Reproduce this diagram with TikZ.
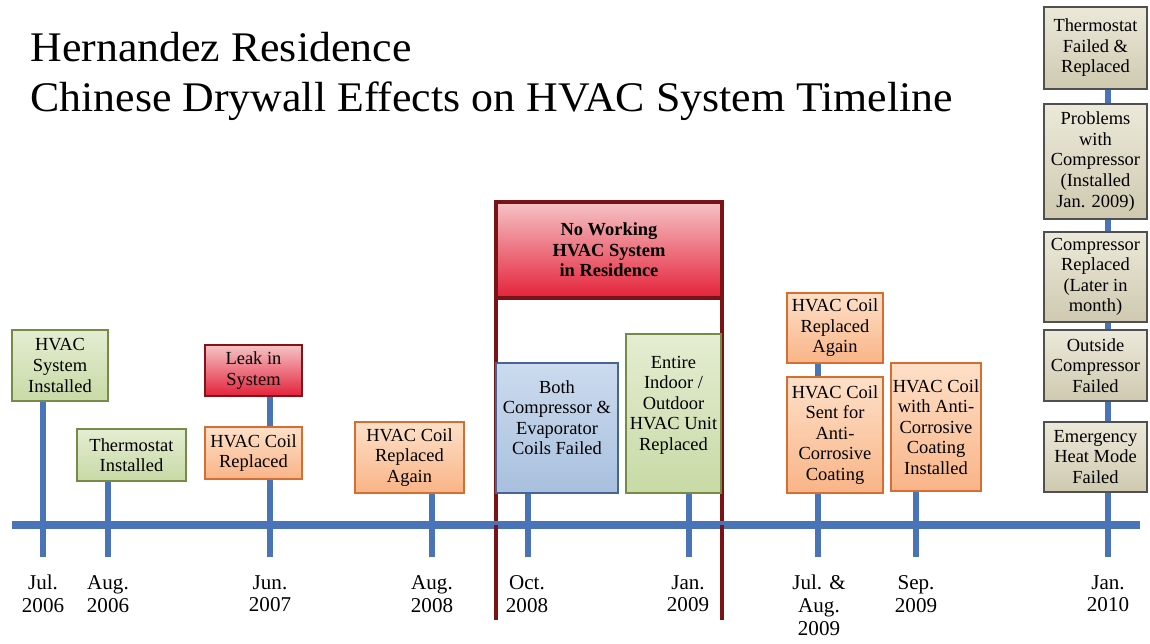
\documentclass[tikz,border=0pt]{standalone}
\usepackage{fontspec}
\setmainfont{Liberation Serif}
\newfontfamily\titlefont[FakeStretch=1.04]{Liberation Serif}
\usetikzlibrary{positioning,calc}

\definecolor{lineblue}{RGB}{74,116,184}
\definecolor{framered}{RGB}{122,19,21}
\definecolor{greenfill}{RGB}{228,237,210}
\definecolor{greenlow}{RGB}{200,218,166}
\definecolor{greenline}{RGB}{118,140,70}
\definecolor{orangefill}{RGB}{253,224,200}
\definecolor{orangelow}{RGB}{249,180,135}
\definecolor{orangeline}{RGB}{214,110,50}
\definecolor{redfill}{RGB}{245,196,198}
\definecolor{redlow}{RGB}{228,34,58}
\definecolor{redline}{RGB}{130,20,25}
\definecolor{bluefill}{RGB}{204,219,238}
\definecolor{bluelow}{RGB}{168,192,222}
\definecolor{blueline}{RGB}{72,100,150}
\definecolor{khakifill}{RGB}{236,233,218}
\definecolor{khakilow}{RGB}{206,201,175}
\definecolor{khakiline}{RGB}{80,80,80}

\begin{document}
\begin{tikzpicture}[x=0.02cm, y=-0.02cm,
    box/.style={draw, line width=1pt, align=center, inner sep=1pt,
        font=\fontsize{10.5}{11.7}\selectfont},
    greenbox/.style={box, draw=greenline, top color=greenfill, bottom color=greenlow},
    orangebox/.style={box, draw=orangeline, top color=orangefill, bottom color=orangelow},
    redbox/.style={box, draw=redline, top color=redfill, bottom color=redlow},
    bluebox/.style={box, draw=blueline, top color=bluefill, bottom color=bluelow},
    khakibox/.style={box, draw=khakiline, top color=khakifill, bottom color=khakilow},
    tick/.style={lineblue, line width=3.4pt},
    frame/.style={framered, line width=2.8pt},
    date/.style={anchor=north, align=center, inner sep=0pt,
        font=\fontsize{12}{13}\selectfont}
]
    \useasboundingbox (0,0) rectangle (1150,644);

    % title
    \node[anchor=base west, inner sep=0pt, font=\titlefont\fontsize{24}{28}\selectfont] (title1) at (30,62) {Hernandez Residence};
    \node[anchor=base west, inner sep=0pt, font=\titlefont\fontsize{24}{28}\selectfont] (title2) at (30,112) {Chinese Drywall Effects on HVAC System Timeline};

    % tick ends on the axis
    \coordinate (t1) at (43,557);
    \coordinate (t2) at (108,557);
    \coordinate (t3) at (270,557);
    \coordinate (t4) at (432,557);
    \coordinate (t5) at (528,557);
    \coordinate (t6) at (689,557);
    \coordinate (t7) at (818,557);
    \coordinate (t8) at (916,557);
    \coordinate (t9) at (1108,557);
    \coordinate (axl) at (12,525);
    \coordinate (axr) at (1140,525);
    \coordinate (fr1) at (496,620);
    \coordinate (fr2) at (722,620);

    % events
    \node[greenbox, minimum width=1.92cm, minimum height=1.42cm] (sys) at (60,365.5) {HVAC\\System\\Installed};
    \node[greenbox, minimum width=2.18cm, minimum height=1.04cm] (tstat) at (131.5,455) {Thermostat\\Installed};
    \node[redbox, minimum width=1.94cm, minimum height=1.02cm] (leak) at (253.5,370.5) {Leak in\\System};
    \node[orangebox, minimum width=1.94cm, minimum height=1.04cm] (coilA) at (253.5,453) {HVAC Coil\\Replaced};
    \node[orangebox, minimum width=2.18cm, minimum height=1.42cm] (coilB) at (409.5,457.5) {HVAC Coil\\Replaced\\Again};

    % no working period, frame behind the boxes
    \draw[frame] (fr1) -- (fr1 |- 0,250);
    \draw[frame] (fr2) -- (fr2 |- 0,250);

    \node[bluebox, minimum width=2.44cm, minimum height=2.6cm] (both) at (557,428) {Both\\Compressor \&\\Evaporator\\Coils Failed\\\mbox{}};
    \node[greenbox, minimum width=1.9cm, minimum height=3.18cm] (entire) at (673.5,413.5) {Entire\\Indoor /\\Outdoor\\HVAC Unit\\Replaced\\\mbox{}};
    \node[orangebox, minimum width=1.92cm, minimum height=1.4cm] (coilC) at (835,328) {HVAC Coil\\Replaced\\Again};
    \node[orangebox, minimum width=1.92cm, minimum height=2.32cm] (sent) at (835,435) {HVAC Coil\\Sent for\\Anti-\\Corrosive\\Coating};
    \node[orangebox, minimum width=1.8cm, minimum height=2.56cm] (withac) at (936,427) {HVAC Coil\\with Anti-\\Corrosive\\Coating\\Installed};
    \node[khakibox, minimum width=2.06cm, minimum height=1.4cm] (emerg) at (1095.5,457) {Emergency\\Heat Mode\\Failed};
    \node[khakibox, minimum width=2.06cm, minimum height=1.42cm] (outside) at (1095.5,365.5) {Outside\\Compressor\\Failed};
    \node[khakibox, minimum width=2.06cm, minimum height=1.8cm] (comprep) at (1095.5,277) {Compressor\\Replaced\\(Later in\\month)};
    \node[khakibox, minimum width=2.06cm, minimum height=2.3cm] (problems) at (1095.5,161.5) {Problems\\with\\Compressor\\(Installed\\Jan. 2009)};
    \node[khakibox, minimum width=2.06cm, minimum height=1.64cm] (tfail) at (1095.5,48) {Thermostat\\Failed \&\\Replaced};

    \node[redbox, font=\bfseries\fontsize{10.5}{11.7}\selectfont, minimum width=4.52cm, minimum height=1.92cm, draw=framered, line width=1.8pt] (nowork) at (609,250) {No Working\\HVAC System\\in Residence};

    % ticks
    \draw[tick] (sys.south -| t1) -- (t1);
    \draw[tick] (tstat.south -| t2) -- (t2);
    \draw[tick] (leak.south -| t3) -- (coilA.north -| t3);
    \draw[tick] (coilA.south -| t3) -- (t3);
    \draw[tick] (coilB.south -| t4) -- (t4);
    \draw[tick] (both.south -| t5) -- (t5);
    \draw[tick] (entire.south -| t6) -- (t6);
    \draw[tick] (coilC.south -| t7) -- (sent.north -| t7);
    \draw[tick] (sent.south -| t7) -- (t7);
    \draw[tick] (withac.south -| t8) -- (t8);
    \draw[tick] (tfail.south -| t9) -- (problems.north -| t9);
    \draw[tick] (problems.south -| t9) -- (comprep.north -| t9);
    \draw[tick] (comprep.south -| t9) -- (outside.north -| t9);
    \draw[tick] (outside.south -| t9) -- (emerg.north -| t9);
    \draw[tick] (emerg.south -| t9) -- (t9);

    % axis
    \draw[lineblue, line width=4.5pt] (axl) -- (axr);
    \draw[frame] (fr1) -- (fr1 |- axl);
    \draw[frame] (fr2) -- (fr2 |- axl);

    % dates
    \node[date] (d1) at (43,575) {Jul.\\2006};
    \node[date] (d2) at (108,575) {Aug.\\2006};
    \node[date] (d3) at (270,575) {Jun.\\2007};
    \node[date] (d4) at (432,575) {Aug.\\2008};
    \node[date] (d5) at (527,575) {Oct.\\2008};
    \node[date] (d6) at (688,575) {Jan.\\2009};
    \node[date] (d7) at (819,575) {Jul. \&\\Aug.\\2009};
    \node[date] (d8) at (916,575) {Sep.\\2009};
    \node[date] (d9) at (1108,575) {Jan.\\2010};
\end{tikzpicture}
\end{document}
